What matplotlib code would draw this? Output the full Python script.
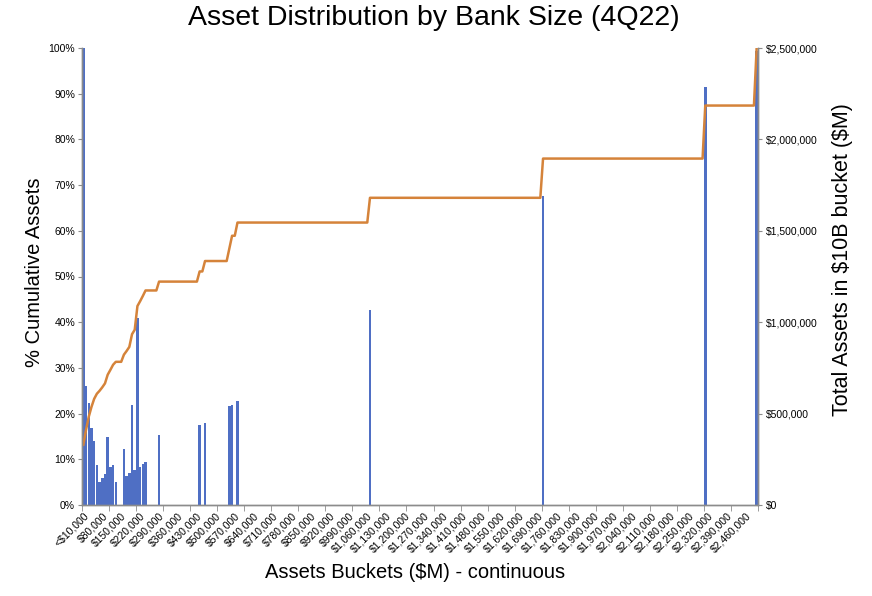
import numpy as np
import matplotlib
matplotlib.use("Agg")
import matplotlib.pyplot as plt
from matplotlib.ticker import FuncFormatter, FixedLocator

plt.rcParams['font.family'] = ['Liberation Sans', 'DejaVu Sans']
plt.rcParams['text.parse_math'] = False

# $10B buckets (upper bound, $M); 250 buckets from <$10,000 to $2,500,000
bucket_step = 10000
n_buckets = 250

# buckets that hold banks: upper bound ($M) and total assets in bucket ($M)
bucket_top = [10000, 20000, 30000, 40000, 50000, 60000, 70000, 80000, 90000,
              100000, 110000, 120000, 130000, 160000, 170000, 180000, 190000,
              200000, 210000, 220000, 230000, 240000, 290000, 440000, 460000,
              550000, 560000, 580000, 1070000, 1710000, 2310000, 2500000]
bucket_assets = [2600000, 650000, 557500, 422500, 350000, 220000, 127500, 150000, 170000,
                 372500, 210000, 220000, 127500, 307500, 160000, 175000, 547500,
                 192500, 1022500, 210000, 225000, 237500, 382500, 437500, 450000,
                 542500, 547500, 570000, 1067500, 1692500, 2287500, 2482500]

assets = np.zeros(n_buckets)
for top, val in zip(bucket_top, bucket_assets):
    assets[top // bucket_step - 1] = val
cumulative = np.cumsum(assets) / assets.sum()

labels = ["<$10,000"] + ["${:,}".format((i + 1) * bucket_step) for i in range(1, n_buckets)]

bar_color = "#4f6fc4"
line_color = "#d5833a"
spine_color = "#8c8c8c"

fig = plt.figure(figsize=(8.72, 5.96), dpi=100)
ax = fig.add_axes([82 / 872, 1 - 505 / 596, 676 / 872, 457 / 596])
ax2 = ax.twinx()

x = np.arange(n_buckets)
ax2.bar(x, assets, width=0.92, color=bar_color)
ax.plot(x, cumulative, color=line_color, lw=1.8, solid_joinstyle="round")

# line on top of bars
ax.set_zorder(ax2.get_zorder() + 1)
ax.patch.set_visible(False)

ax.set_xlim(-0.5, n_buckets - 0.5)
ax.set_ylim(0, 1)
ax2.set_ylim(0, 2500000)

ax.set_yticks(np.arange(0, 1.01, 0.1))
ax.yaxis.set_major_formatter(FuncFormatter(lambda v, p: "{:.0f}%".format(v * 100)))
ax2.set_yticks(np.arange(0, 2500001, 500000))
ax2.yaxis.set_major_formatter(FuncFormatter(lambda v, p: "${:,.0f}".format(v)))

# labels every 7 buckets, tick marks every 10 buckets
lab_pos = x[::7]
ax.set_xticks(lab_pos)
ax.set_xticklabels([labels[i] for i in lab_pos], rotation=45, ha="right",
                   rotation_mode="anchor", fontsize=7.5)
ax.xaxis.set_minor_locator(FixedLocator(np.arange(-0.5, n_buckets, 10)))
ax.tick_params(axis="x", which="major", length=0, pad=4)
ax.tick_params(axis="x", which="minor", length=4, color=spine_color, direction="out")
ax.tick_params(axis="y", length=3, color=spine_color, labelsize=7.5, pad=2)
ax2.tick_params(axis="y", length=3, color=spine_color, labelsize=7.5, pad=3)

for a in (ax, ax2):
    a.spines["top"].set_visible(False)
    for s in ("left", "right", "bottom"):
        a.spines[s].set_color(spine_color)
        a.spines[s].set_linewidth(1.0)

fig.text(434 / 872, 1 - 18 / 596, "Asset Distribution by Bank Size (4Q22)",
         ha="center", va="center", fontsize=20.5)
fig.text(35 / 872, 1 - 272 / 596, "% Cumulative Assets", rotation=90,
         ha="center", va="center", fontsize=14.5)
fig.text(842 / 872, 1 - 260 / 596, "Total Assets in $10B bucket ($M)", rotation=90,
         ha="center", va="center", fontsize=15.5)
fig.text(415 / 872, 1 - 572 / 596, "Assets Buckets ($M) - continuous",
         ha="center", va="center", fontsize=14.5)

fig.savefig("out.png", dpi=100)
